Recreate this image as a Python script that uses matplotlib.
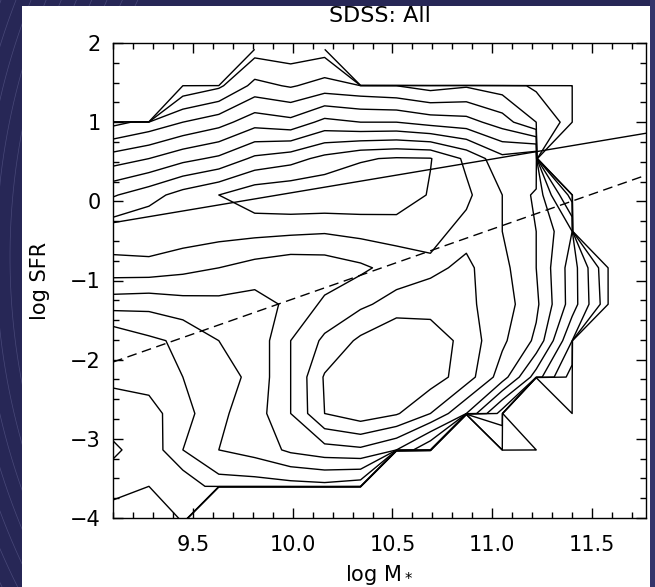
import numpy as np
import matplotlib
matplotlib.use('Agg')
import matplotlib.pyplot as plt
from matplotlib.patches import Rectangle

# bin centres of the 2D histogram
mass_bins = [9.10, 9.28, 9.45, 9.63, 9.81, 9.99, 10.16, 10.34,
             10.52, 10.69, 10.87, 11.05, 11.22, 11.40, 11.58, 11.76]
sfr_bins = [1.92, 1.46, 1.00, 0.54, 0.08, -0.38, -0.84,
            -1.30, -1.76, -2.22, -2.68, -3.14, -3.60, -4.06]

# log number density per bin (contour units), None = empty bin; top row first
E = None
density = [
    [E, E, E, E, 1.6, 1.4, 1.6, E, E, E, E, E, E, E, E, E],
    [E, E, 1.2, 1.8, 3.3, 2.9, 3.4, 3.2, 3.0, 2.6, 2.9, 2.5, 1.8, 1.3, E, E],
    [2.7, 3.3, 4.0, 4.6, 5.6, 5.3, 6.3, 6.0, 6.0, 5.6, 5.4, 4.5, 3.0, 1.5, E, E],
    [5.5, 6.0, 6.7, 7.2, 8.2, 8.6, 9.3, 9.9, 10.1, 10.05, 8.8, 7.3, 8.0, E, 1.0, E],
    [7.9, 8.6, 9.4, 10.0, 10.7, 10.9, 10.9, 10.8, 10.7, 9.9, 9.2, 8.0, 6.8, 2.5, E, E],
    [9.7, 9.9, 9.6, 9.4, 9.3, 9.2, 9.1, 9.3, 9.4, 9.3, 8.7, 8.0, 7.0, 5.0, E, E],
    [8.6, 8.6, 8.3, 8.0, 7.6, 7.3, 7.4, 7.8, 8.4, 8.8, 9.2, 8.3, 7.0, 4.5, 1.1, E],
    [6.4, 6.3, 6.6, 6.7, 6.6, 7.2, 8.2, 8.8, 9.4, 9.5, 9.2, 8.5, 7.2, 4.5, 1.3, E],
    [4.1, 4.8, 5.2, 6.0, 6.3, 8.0, 9.2, 10.2, 11.0, 10.7, 9.6, 8.2, 6.8, 3.0, E, E],
    [4.3, 4.4, 5.0, 5.5, 6.3, 8.0, 10.1, 11.0, 11.2, 10.5, 9.5, 7.5, 4.5, 1.5, E, E],
    [3.3, 3.6, 4.6, 5.8, 6.5, 8.0, 10.0, 10.6, 10.1, 9.0, 7.0, 3.5, E, 1.0, E, E],
    [2.9, 3.3, 5.0, 6.0, 6.4, 7.2, 7.6, 7.8, 7.0, 5.0, E, 2.0, 1.2, E, E, E],
    [3.3, 3.0, 3.2, 4.5, 4.5, 4.6, 4.7, 4.4, E, E, E, E, E, E, E, E],
    [2.5, 2.2, 3.0, E, E, E, E, E, E, E, E, E, E, E, E, E],
]
levels = [1, 2, 3, 4, 5, 6, 7, 8, 9, 10]

# main sequence (solid) and SF / passive division (dashed)
ms_x = [9.10, 11.77]
ms_y = [-0.27, 0.86]
cut_x = [9.10, 11.77]
cut_y = [-2.03, 0.33]

z = np.array([[np.nan if v is None else v for v in row] for row in density])
z = np.where(np.isnan(z), -200.0, z)

fig = plt.figure(figsize=(6.55, 5.87), dpi=100, facecolor='#272756')

# faint swirl lines on the dark frame
t = np.linspace(0, 2 * np.pi, 400)
for r in np.arange(600, 760, 14):
    fig.lines.append(plt.Line2D((680 + r * np.cos(t)) / 655, (330 + r * np.sin(t)) / 587,
                                transform=fig.transFigure, color='#8888bb',
                                lw=0.5, alpha=0.35, zorder=-3))
fig.patches.append(Rectangle((650 / 655, 0), 5 / 655, 1,
                             transform=fig.transFigure, facecolor='#34346a',
                             edgecolor='none', zorder=-2.5))
fig.patches.append(Rectangle((22 / 655, 0), 628 / 655, 581 / 587,
                             transform=fig.transFigure, facecolor='white',
                             edgecolor='none', zorder=-2))

ax = fig.add_axes([113 / 655, 69 / 587, 533 / 655, 475 / 587])
ax.set_facecolor('white')

ax.contour(mass_bins, sfr_bins, z, levels=levels, colors='black', linewidths=1.0)
ax.plot(ms_x, ms_y, color='black', lw=1.0)
ax.plot(cut_x, cut_y, color='black', lw=1.0, dashes=(7, 4))

ax.set_xlim(9.1, 11.77)
ax.set_ylim(-4, 2)
ax.set_xticks([9.5, 10.0, 10.5, 11.0, 11.5])
ax.set_xticks(np.arange(9.1, 11.78, 0.1), minor=True)
ax.set_yticks([-4, -3, -2, -1, 0, 1, 2])
ax.set_yticks(np.arange(-4, 2.01, 0.25), minor=True)
ax.set_yticklabels(['\u22124', '\u22123', '\u22122', '\u22121', '0', '1', '2'])
ax.tick_params(which='both', direction='in', top=True, right=True,
               labelsize=15, width=1.0)
ax.tick_params(axis='x', pad=12)
ax.tick_params(axis='y', pad=9)
ax.tick_params(which='major', length=7)
ax.tick_params(which='minor', length=4)
for s in ax.spines.values():
    s.set_linewidth(1.0)

ax.set_title('SDSS: All', fontsize=16, pad=15)
ax.set_xlabel('log M$_*$', fontsize=15, labelpad=6)
ax.set_ylabel('log SFR', fontsize=15, labelpad=14)

fig.savefig('out.png', dpi=100, facecolor=fig.get_facecolor())
